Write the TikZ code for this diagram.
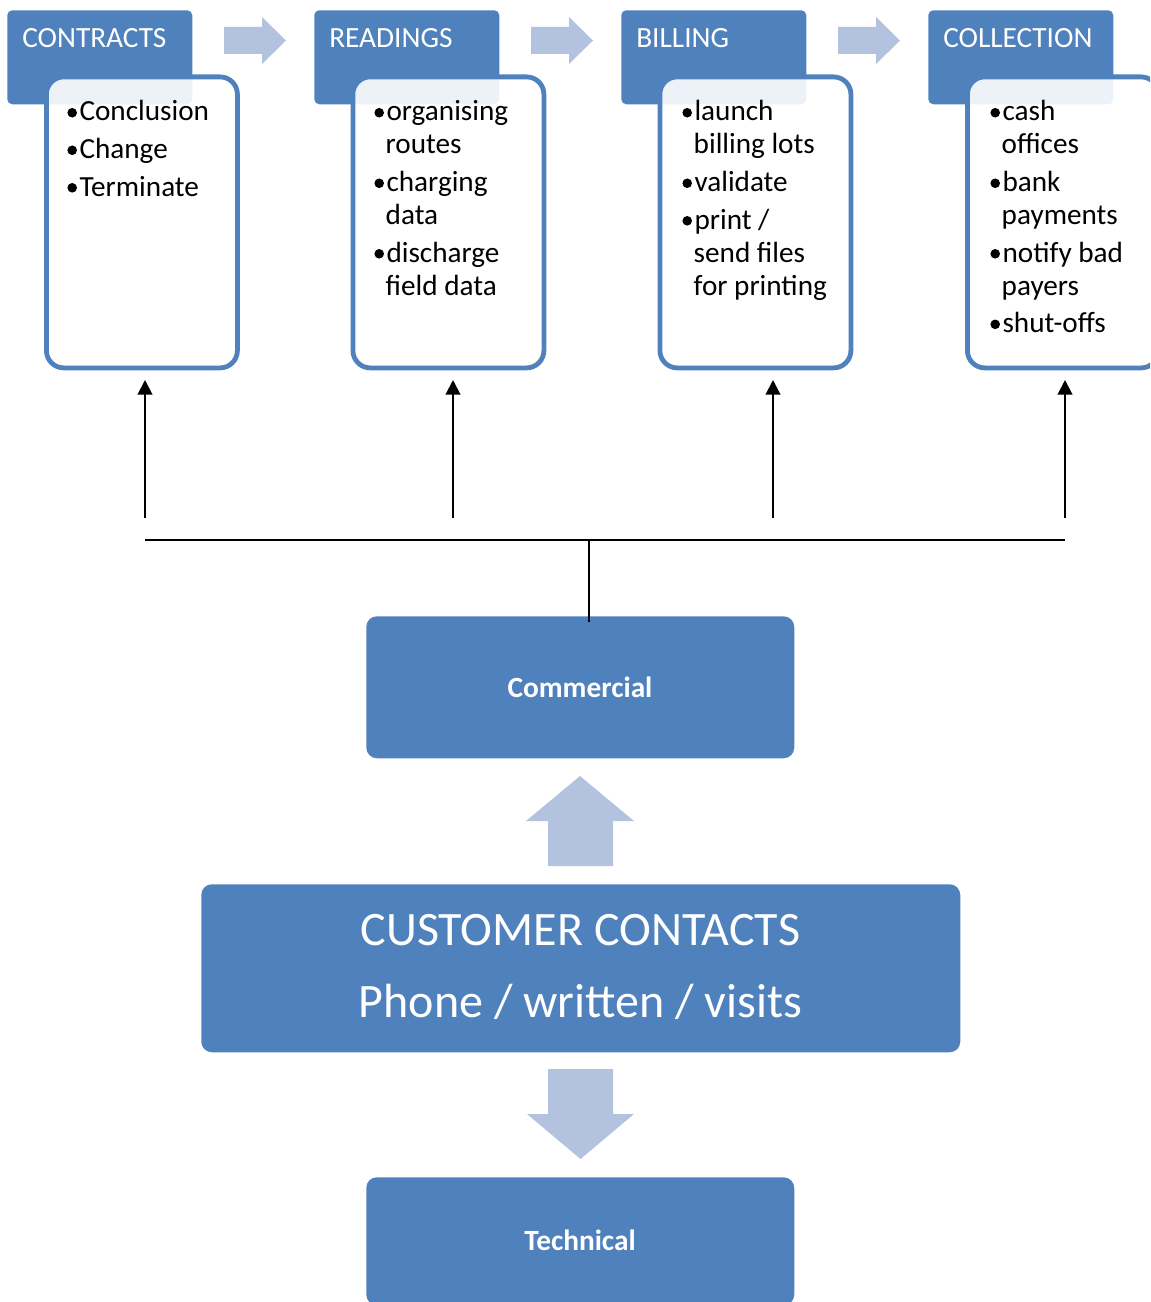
\documentclass[tikz,border=0pt]{standalone}
\usepackage{fontspec}
\setmainfont{Carlito}
\usetikzlibrary{arrows.meta,calc}
\definecolor{hdrblue}{HTML}{4F81BD}
\definecolor{paleblue}{HTML}{B3C3DF}
% one drawing unit = one pixel of the 1150 x 1302 canvas
\newcommand\pxu{0.75pt}
\newcommand\bul{\tikz[baseline=0pt]{\fill[black] (3.7pt,6.2pt) circle[radius=3.6pt];
  \path (0pt,0pt) (9.2pt,0pt);}}
\newcommand\ind{\hspace*{8.6pt}}
\newcommand\igap{\\[3.4pt]}
\tikzset{
  hdr/.style={fill=hdrblue, rounded corners=3.75pt, inner sep=0pt, anchor=north west,
              minimum width=138.75pt, minimum height=70.5pt},
  hdrtext/.style={text=white, inner sep=0pt, anchor=base west,
              font=\fontsize{22pt}{27pt}\selectfont},
  card/.style={draw=hdrblue, line width=3.6pt, fill=white, fill opacity=0.9,
              rounded corners=13pt, inner sep=0pt, anchor=north west,
              minimum width=143.25pt, minimum height=218.25pt},
  listtext/.style={inner sep=0pt, anchor=base west,
              font=\fontsize{21.9pt}{24.75pt}\selectfont},
  block/.style={fill=hdrblue, rounded corners=8pt, inner sep=0pt},
  blocktext/.style={text=white, inner sep=0pt, anchor=base,
              font=\fontsize{22pt}{26pt}\selectfont\bfseries},
  flow/.style={fill=paleblue},
  link/.style={line width=1.5pt, black},
  uparrow/.style={link, -{Triangle[length=11pt,width=11pt]}},
}
\begin{document}
\begin{tikzpicture}[x=0.75pt,y=-0.75pt]
\useasboundingbox (0,0) rectangle (1150,1302);
\clip (0,0) rectangle (1150,1302);

% ---- process headers ----
\node[hdr] (h1) at (7,10) {};
\node[hdr] (h2) at (314,10) {};
\node[hdr] (h3) at (621,10) {};
\node[hdr] (h4) at (928,10) {};

% ---- step cards ----
\node[card] (c1) at (44,74.5) {};
\node[card] (c2) at (350.5,74.5) {};
\node[card] (c3) at (657.5,74.5) {};
\node[card] (c4) at (965,74.5) {};

\node[hdrtext] (h1t) at (22,48) {CONTRACTS};
\node[hdrtext] (h2t) at (329,48) {READINGS};
\node[hdrtext] (h3t) at (636,48) {BILLING};
\node[hdrtext] (h4t) at (943,48) {COLLECTION};

% ---- step activities ----
\node[listtext] (l1) at (67,121) {\begin{tabular}[t]{@{}l@{}}
  \bul Conclusion\igap \bul Change\igap \bul Terminate\end{tabular}};
\node[listtext] (l2) at (374,121) {\begin{tabular}[t]{@{}l@{}}
  \bul organising\\ \ind routes\igap \bul charging\\ \ind data\igap
  \bul discharge\\ \ind field data\end{tabular}};
\node[listtext] (l3) at (682,121) {\begin{tabular}[t]{@{}l@{}}
  \bul launch\\ \ind billing lots\igap \bul validate\igap
  \bul print /\\ \ind send files\\ \ind for printing\end{tabular}};
\node[listtext] (l4) at (990,121) {\begin{tabular}[t]{@{}l@{}}
  \bul cash\\ \ind offices\igap \bul bank\\ \ind payments\igap
  \bul notify bad\\ \ind payers\igap \bul shut-offs\end{tabular}};

% ---- flow arrows between headers ----
\foreach \x in {224,531,838}{
  \fill[flow] (\x,27) -- (\x+38,27) -- (\x+38,17) -- (\x+62,40.5)
              -- (\x+38,64) -- (\x+38,54) -- (\x,54) -- cycle;
}

% ---- bottom blocks ----
\node[block, anchor=north west, minimum width=321pt, minimum height=106.5pt] (comm) at (366,616) {};
\node[blocktext] (commt) at (580,697) {Commercial};

\node[block, anchor=north west, minimum width=569.25pt, minimum height=126pt] (cust) at (201,884) {};
\node[text=white, inner sep=0pt, anchor=base, font=\fontsize{36pt}{54pt}\selectfont] (custt)
  at (580.5,945) {\begin{tabular}[t]{@{}c@{}}CUSTOMER CONTACTS\\Phone / written / visits\end{tabular}};

\node[block, anchor=north west, minimum width=321pt, minimum height=96pt] (tech) at (366,1177) {};
\node[blocktext] (techt) at (580,1250) {Technical};

% block arrows between contacts and the two departments
\fill[flow] (548,866) -- (548,821) -- (526,821) -- (580,776) -- (634,821)
            -- (613,821) -- (613,866) -- cycle;
\fill[flow] (548,1069) -- (613,1069) -- (613,1114) -- (634,1114) -- (580.5,1159)
            -- (527,1114) -- (548,1114) -- cycle;

% ---- distribution from Commercial to the four steps ----
\coordinate (j) at (589,540);
\coordinate (bl) at (145,540);
\coordinate (br) at (1065,540);
\foreach \i/\x in {1/145,2/453,3/773,4/1065}{
  \coordinate (s\i) at (\x,518);
  \coordinate (t\i) at (\x,380);
  \draw[uparrow] (s\i) -- (t\i);
}
\draw[link] (bl) -- (br);
\draw[link] (j) -- ([yshift=-4.5pt]comm.north -| j);
\end{tikzpicture}
\end{document}
